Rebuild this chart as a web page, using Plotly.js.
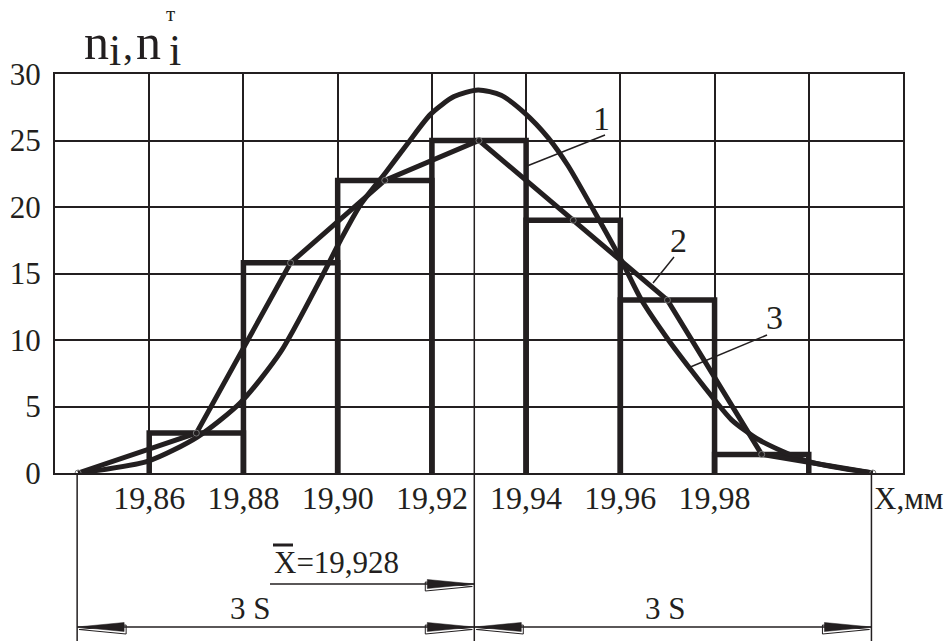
<!DOCTYPE html>
<html><head><meta charset="utf-8">
<script src="https://cdn.plot.ly/plotly-3.0.1.min.js"></script>
<style>html,body{margin:0;padding:0;background:#fff}</style>
</head><body><div id="chart" style="width:947px;height:641px"></div>
<script>
// ---- data ----
const binEdges = [19.86, 19.88, 19.90, 19.92, 19.94, 19.96, 19.98, 20.00];
const counts   = [3, 15.8, 22, 25, 19, 13, 1.4];          // n_i (histogram, 1)
const polyStart = 19.8449, polyEnd = 20.0136;            // polygon ends (2)
const curveX = [19.8449, 19.8598, 19.8702, 19.8794, 19.8879, 19.8964, 19.9006, 19.9049,
                19.9102, 19.9149, 19.9198, 19.9247, 19.9298, 19.9347, 19.9396, 19.9447,
                19.9489, 19.9560, 19.9602, 19.9645, 19.9702, 19.9751, 19.9800, 19.9836,
                19.9894, 19.9996, 20.0136];
const curveY = [0, 0.9, 2.7, 5.3, 9.1, 14.6, 17.5, 20.2,
                22.6, 24.8, 27.0, 28.3, 28.8, 28.4, 27.1, 25.2,
                23.1, 18.7, 16.0, 13.0, 10.0, 7.7, 5.5, 4.0,
                2.5, 0.9, 0];                              // n_i^T (normal curve, 3)
const xTickVals = [19.84, 19.86, 19.88, 19.90, 19.92, 19.94, 19.96, 19.98, 20.00, 20.02];
const xTickText = ['', '19,86', '19,88', '19,90', '19,92', '19,94', '19,96', '19,98', '', ''];
const yTickVals = [0, 5, 10, 15, 20, 25, 30];
const meanText = 'X=19,928';
const meanLineX = 19.929;   // where the mean line is drawn in the figure
const threeS = 0.0843;      // 3S as drawn
const curveLabels = ['1', '2', '3'];

// ---- build traces ----
const INK = '#231f20';
const FONT = 'Liberation Serif';
const hx = [], hy = [];
for (let i = 0; i < counts.length; i++) {
  const l = binEdges[i], r = binEdges[i + 1], h = counts[i];
  hx.push(l, l, r, r, null); hy.push(0, h, h, 0, null);
}
const mids = counts.map((_, i) => (binEdges[i] + binEdges[i + 1]) / 2);
const px = [polyStart, ...mids, polyEnd];
const py = [0, ...counts, 0];

const traces = [
  {x: hx, y: hy, mode: 'lines', line: {color: INK, width: 5.5}, hoverinfo: 'skip', connectgaps: false},
  {x: curveX, y: curveY, mode: 'lines', line: {color: INK, width: 5, shape: 'spline', smoothing: 0.7}, hoverinfo: 'skip'},
  {x: px, y: py, mode: 'lines+markers', line: {color: INK, width: 5},
   marker: {symbol: 'circle-open', size: 6, color: '#777', line: {width: 1}}, hoverinfo: 'skip'}
];

// ---- pixel helpers for decorations (plot area 55..903 x 74..473) ----
const L = 55, R = 903, T = 74, B = 473;
const pxX = p => (p - L) / (R - L);
const pxY = p => (B - p) / (B - T);
const dataPerPx = 0.18 / (R - L);
const paperPerPx = 1 / (B - T);

const shapes = [];
function vline(x, y0, y1, w) {
  shapes.push({type: 'line', xref: 'x', yref: 'paper', x0: x, x1: x, y0: y0, y1: y1, line: {color: INK, width: w}});
}
function hline(x0, x1, y, w) {
  shapes.push({type: 'line', xref: 'x', yref: 'paper', x0: x0, x1: x1, y0: y, y1: y, line: {color: INK, width: w}});
}
function arrow(tipX, y, dir) { // dir = +1 points right, -1 points left
  const len = 47 * dataPerPx, hh = 4.5 * paperPerPx;
  const bx = tipX - dir * len;
  const ox = 2 * dataPerPx * (dir > 0 ? -1 : 1), oy = -2.5 * paperPerPx;
  shapes.push({type: 'path', xref: 'x', yref: 'paper',
    path: `M${tipX + ox},${y + oy} L${bx + ox},${y + oy + hh} L${bx + ox},${y + oy - hh} Z`,
    line: {color: INK, width: 1}, fillcolor: 'rgba(255,255,255,0)'});
  shapes.push({type: 'path', xref: 'x', yref: 'paper',
    path: `M${tipX},${y} L${bx},${y + hh} L${bx},${y - hh} Z`,
    line: {color: INK, width: 0.5}, fillcolor: INK});
}
const leftS = meanLineX - threeS, rightS = meanLineX + threeS;
const bottomY = pxY(641);
vline(meanLineX, bottomY, 1, 1.5);
vline(leftS, bottomY, 0, 1.5);
vline(rightS, bottomY, 0, 1.5);
const dimY = pxY(627);
hline(leftS, rightS, dimY, 1.5);
arrow(leftS, dimY, -1); arrow(meanLineX, dimY, 1);
arrow(meanLineX, dimY, -1); arrow(rightS, dimY, 1);
const meanArrowY = pxY(584);
hline(19.84 + (270 - L) * dataPerPx, meanLineX, meanArrowY, 1.5);
arrow(meanLineX, meanArrowY, 1);
// overbar of X
shapes.push({type: 'line', xref: 'paper', yref: 'paper', x0: pxX(273), x1: pxX(293), y0: pxY(545), y1: pxY(545), line: {color: INK, width: 3}});
// leaders for labels 1,2,3
const leaders = [[605, 135, 527, 166], [674, 257, 653, 283], [767, 335, 688, 368]];
leaders.forEach(([a, b, c, d]) => shapes.push({type: 'line', xref: 'paper', yref: 'paper',
  x0: pxX(a), y0: pxY(b), x1: pxX(c), y1: pxY(d), line: {color: INK, width: 1.5}}));

const ann = (text, x, y, size, extra) => Object.assign({text: text, xref: 'paper', yref: 'paper',
  x: pxX(x), y: pxY(y), showarrow: false, xanchor: 'center', yanchor: 'middle',
  font: {family: FONT, size: size, color: INK}}, extra || {});
const annotations = [
  ann(curveLabels[0], 601, 118, 34),
  ann(curveLabels[1], 678, 240, 34),
  ann(curveLabels[2], 774, 317, 34),
  ann('X,мм', 872, 498, 31, {xanchor: 'left'}),
  ann(meanText, 272, 562, 31, {xanchor: 'left'}),
  ann('3 S', 250, 608, 31),
  ann('3 S', 665, 608, 31),
  // y title n_i, n_i^T
  ann('n', 96, 42, 50),
  ann('i', 115, 50, 44),
  ann(',', 128, 45, 40),
  ann('n', 148, 42, 50),
  ann('i', 175, 50, 44),
  ann('т', 170, 14, 21)
];

const axisCommon = {showgrid: true, gridcolor: INK, gridwidth: 2, showline: true, mirror: true,
  linecolor: INK, linewidth: 2, zeroline: false, ticks: '', fixedrange: true};
const layout = {
  width: 947, height: 641, margin: {l: L, r: 947 - R, t: T, b: 641 - B},
  paper_bgcolor: '#fff', plot_bgcolor: '#fff', showlegend: false,
  xaxis: Object.assign({}, axisCommon, {range: [19.84, 20.02], tickmode: 'array', tickvals: xTickVals, ticktext: xTickText,
    ticklabelstandoff: -4, tickfont: {family: FONT, size: 32, color: INK}}),
  yaxis: Object.assign({}, axisCommon, {range: [0, 30], tickmode: 'array', tickvals: yTickVals, ticktext: yTickVals.map(String),
    ticklabelstandoff: 6, tickfont: {family: FONT, size: 31, color: INK}}),
  shapes: shapes, annotations: annotations
};
Plotly.newPlot('chart', traces, layout, {displayModeBar: false, staticPlot: true});
</script></body></html>
